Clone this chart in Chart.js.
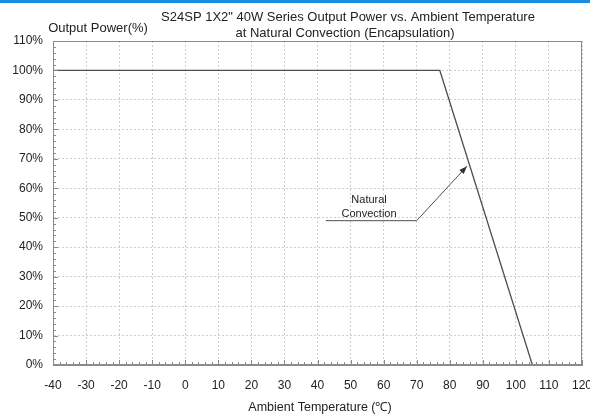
<!DOCTYPE html>
<html lang="en">
<head>
  <meta charset="UTF-8">
  <title>S24SP 1X2" 40W Derating</title>
  <script src="https://cdn.jsdelivr.net/npm/chart.js"></script>
  <style>
    html, body { margin: 0; padding: 0; background: #fff; }
    .chart-container { width: 590px; height: 417px; position: relative; }
  </style>
</head>
<body>
<div class="chart-container">
  <canvas id="deratingChart" width="590" height="417"></canvas>
</div>

<script>
  // derating curve (ambient temperature in C, output power in %)
  const tempC = [-40, 77, 105];
  const powerPct = [100, 100, 0];

  // leader line of the "Natural Convection" callout
  const leaderX = [42.5, 70, 85.2];
  const leaderY = [49, 49, 67.5];

  const xMin = -40, xMax = 120, xStep = 10;
  const yMin = 0, yMax = 110, yStep = 10;

  const titleLines = ['S24SP 1X2" 40W Series Output Power vs. Ambient Temperature', 'at Natural Convection (Encapsulation)'];
  const yTitle = 'Output Power(%)';
  const xTitle = 'Ambient Temperature (\u2103)';
  const calloutLines = ['Natural', 'Convection'];

  const FONT = '"Liberation Sans", Arial, sans-serif';
  const INK = '#222';

  const toPoints = (xs, ys) => xs.map((x, i) => ({ x: x, y: ys[i] }));

  // title, axis names, minor ticks, frame and the callout arrow
  const decorations = {
    id: 'decorations',
    beforeDraw(chart) {
      const ctx = chart.ctx;
      ctx.save();
      ctx.fillStyle = '#1b8ce3';
      ctx.fillRect(0, 0, chart.width, 3);
      ctx.restore();
    },
    afterDatasetsDraw(chart) {
      const ctx = chart.ctx;
      const a = chart.chartArea;
      const xs = chart.scales.x, ys = chart.scales.y;
      ctx.save();

      // frame
      ctx.strokeStyle = '#8a8a8a';
      ctx.lineWidth = 1;
      ctx.strokeRect(a.left + 0.5, a.top + 0.5, a.right - a.left - 1, a.bottom - a.top - 1);

      // minor ticks (inside the plot)
      ctx.beginPath();
      for (let v = xMin; v <= xMax; v += 2) {
        const px = Math.round(xs.getPixelForValue(v)) + 0.5;
        const len = v % 10 === 0 ? 5 : 3;
        ctx.moveTo(px, a.bottom);
        ctx.lineTo(px, a.bottom - len);
      }
      for (let v = yMin; v <= yMax; v += 2) {
        const py = Math.round(ys.getPixelForValue(v)) + 0.5;
        const len = v % 10 === 0 ? 5 : 3;
        ctx.moveTo(a.left, py);
        ctx.lineTo(a.left + len, py);
      }
      ctx.stroke();

      // arrow head at end of the leader
      const n = leaderX.length;
      const x1 = xs.getPixelForValue(leaderX[n - 2]), y1 = ys.getPixelForValue(leaderY[n - 2]);
      const x2 = xs.getPixelForValue(leaderX[n - 1]), y2 = ys.getPixelForValue(leaderY[n - 1]);
      const ang = Math.atan2(y2 - y1, x2 - x1);
      const L = 8, W = 3;
      ctx.fillStyle = '#333';
      ctx.beginPath();
      ctx.moveTo(x2, y2);
      ctx.lineTo(x2 - L * Math.cos(ang) + W * Math.sin(ang), y2 - L * Math.sin(ang) - W * Math.cos(ang));
      ctx.lineTo(x2 - L * Math.cos(ang) - W * Math.sin(ang), y2 - L * Math.sin(ang) + W * Math.cos(ang));
      ctx.closePath();
      ctx.fill();

      // callout text
      ctx.fillStyle = INK;
      ctx.font = '11px ' + FONT;
      ctx.textAlign = 'center';
      ctx.textBaseline = 'middle';
      const cx = xs.getPixelForValue(55.6);
      ctx.fillText(calloutLines[0], cx, ys.getPixelForValue(56));
      ctx.fillText(calloutLines[1], cx, ys.getPixelForValue(51.3));

      // titles
      ctx.font = '13px ' + FONT;
      ctx.fillText(titleLines[0], 348, 17);
      ctx.fillText(titleLines[1], 345, 33);
      ctx.fillText(yTitle, 98, 28);
      ctx.font = '12.5px ' + FONT;
      ctx.fillText(xTitle, 320, 408);
      ctx.restore();
    }
  };

  const ctx = document.getElementById('deratingChart').getContext('2d');
  new Chart(ctx, {
    type: 'scatter',
    data: {
      datasets: [{
        label: 'Natural Convection',
        data: toPoints(tempC, powerPct),
        showLine: true,
        borderColor: '#505050',
        borderWidth: 1.3,
        pointRadius: 0,
        tension: 0
      }, {
        label: 'leader',
        data: toPoints(leaderX, leaderY),
        showLine: true,
        borderColor: '#505050',
        borderWidth: 1,
        pointRadius: 0,
        tension: 0
      }]
    },
    plugins: [decorations],
    options: {
      responsive: false,
      animation: false,
      devicePixelRatio: 1,
      layout: { padding: { top: 41, right: 8, left: 0, bottom: 0 } },
      plugins: {
        legend: { display: false },
        tooltip: { enabled: false }
      },
      scales: {
        x: {
          type: 'linear',
          min: xMin,
          max: xMax,
          afterFit: s => { s.height = 52; s.paddingLeft = 0; s.paddingRight = 0; },
          ticks: {
            stepSize: xStep,
            autoSkip: false,
            padding: 13,
            color: INK,
            font: { family: FONT, size: 12 },
            maxRotation: 0
          },
          grid: { color: '#cdcdcd', drawTicks: false },
          border: { display: true, color: '#8a8a8a', dash: [2, 2] }
        },
        y: {
          min: yMin,
          max: yMax,
          afterFit: s => { s.width = 53; s.paddingTop = 0; s.paddingBottom = 0; },
          ticks: {
            stepSize: yStep,
            autoSkip: false,
            padding: 10,
            color: INK,
            font: { family: FONT, size: 12 },
            callback: v => v + '%'
          },
          grid: { color: '#cdcdcd', drawTicks: false },
          border: { display: true, color: '#8a8a8a', dash: [2, 2] }
        }
      }
    }
  });
</script>
</body>
</html>
